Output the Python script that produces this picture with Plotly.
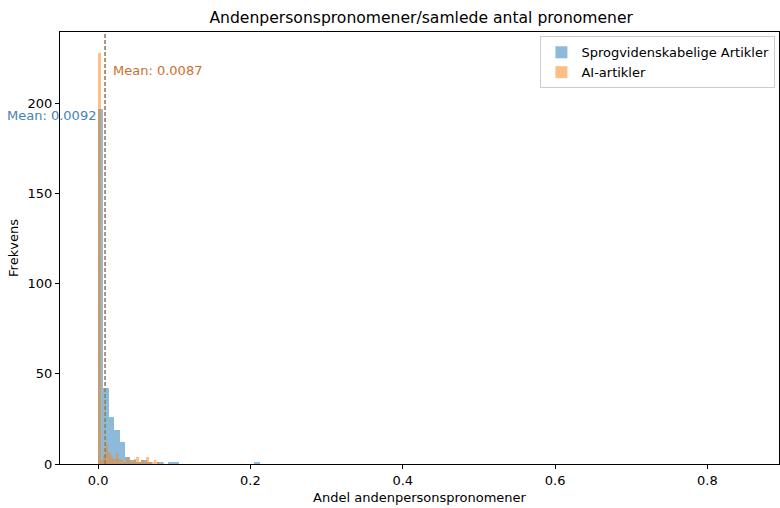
import plotly.graph_objects as go

# ---- data ----
blue_name = "Sprogvidenskabelige Artikler"
orange_name = "AI-artikler"

blue_bin_start = 0.0
blue_bin_width = 0.00707
blue_counts = [197, 42, 26, 19, 12, 4, 2, 1, 2, 1, 0, 1, 0, 1, 1,
               0, 0, 0, 0, 0, 0, 0, 0, 0, 0, 0, 0, 0, 0, 1]

orange_bin_start = 0.0
orange_bin_width = 1 / 300
orange_counts = [228, 2, 5, 11, 6, 4, 3, 6, 3, 2, 1, 4, 2, 1, 3, 4,
                 1, 2, 1, 4, 1, 1, 2, 1, 0, 1]

blue_mean = 0.0092
orange_mean = 0.0087

title = "Andenpersonspronomener/samlede antal pronomener"
x_title = "Andel andenpersonspronomener"
y_title = "Frekvens"

x_ticks = [0.0, 0.2, 0.4, 0.6, 0.8]
y_ticks = [0, 50, 100, 150, 200]

BLUE = "#1f77b4"
ORANGE = "#ff7f0e"
FONT = "DejaVu Sans"

blue_x = [blue_bin_start + (i + 0.5) * blue_bin_width for i in range(len(blue_counts))]
orange_x = [orange_bin_start + (i + 0.5) * orange_bin_width for i in range(len(orange_counts))]

fig = go.Figure()
fig.add_trace(go.Bar(x=blue_x, y=blue_counts, width=blue_bin_width, name=blue_name,
                     marker=dict(color=BLUE, line=dict(width=0)), opacity=0.5))
fig.add_trace(go.Bar(x=orange_x, y=orange_counts, width=orange_bin_width, name=orange_name,
                     marker=dict(color=ORANGE, line=dict(width=0)), opacity=0.5))

fig.add_vline(x=blue_mean, line=dict(color=BLUE, width=1.5, dash="4px,2px"), opacity=0.8)
fig.add_vline(x=orange_mean, line=dict(color=ORANGE, width=1.5, dash="4px,2px"), opacity=0.6)

fig.add_annotation(x=blue_mean, y=193, text=f"Mean: {blue_mean:.4f}", showarrow=False,
                   xanchor="right", yanchor="middle", xshift=-7,
                   font=dict(family=FONT, size=13, color="rgb(70,130,180)"))
fig.add_annotation(x=orange_mean, y=218, text=f"Mean: {orange_mean:.4f}", showarrow=False,
                   xanchor="left", yanchor="middle", xshift=6,
                   font=dict(family=FONT, size=13, color="rgb(205,112,45)"))

axis_common = dict(showgrid=False, zeroline=False, showline=True, linecolor="black",
                   linewidth=1, mirror=True, ticks="outside", ticklen=4, tickcolor="black",
                   tickfont=dict(family=FONT, size=13, color="black"))

fig.update_layout(
    width=780, height=508,
    margin=dict(l=60, r=1, t=32, b=44),
    paper_bgcolor="white", plot_bgcolor="white",
    barmode="overlay", bargap=0,
    title=dict(text=title, x=0.54, xanchor="center", y=1 - 18 / 508, yanchor="middle",
               font=dict(family=FONT, size=15.6, color="black")),
    xaxis=dict(range=[-0.05, 0.894], tickvals=x_ticks, ticktext=[f"{v:.1f}" for v in x_ticks],
               title=dict(text=x_title, font=dict(family=FONT, size=13, color="black"), standoff=6),
               **axis_common),
    yaxis=dict(range=[0, 239.4], tickvals=y_ticks,
               title=dict(text=y_title, font=dict(family=FONT, size=13, color="black"), standoff=6),
               **axis_common),
    legend=dict(x=0.995, y=0.99, xanchor="right", yanchor="top", bgcolor="rgba(255,255,255,0.8)",
                bordercolor="#cccccc", borderwidth=1,
                font=dict(family=FONT, size=13, color="black"), tracegroupgap=0),
    showlegend=True,
)

fig.write_html("out.html")
